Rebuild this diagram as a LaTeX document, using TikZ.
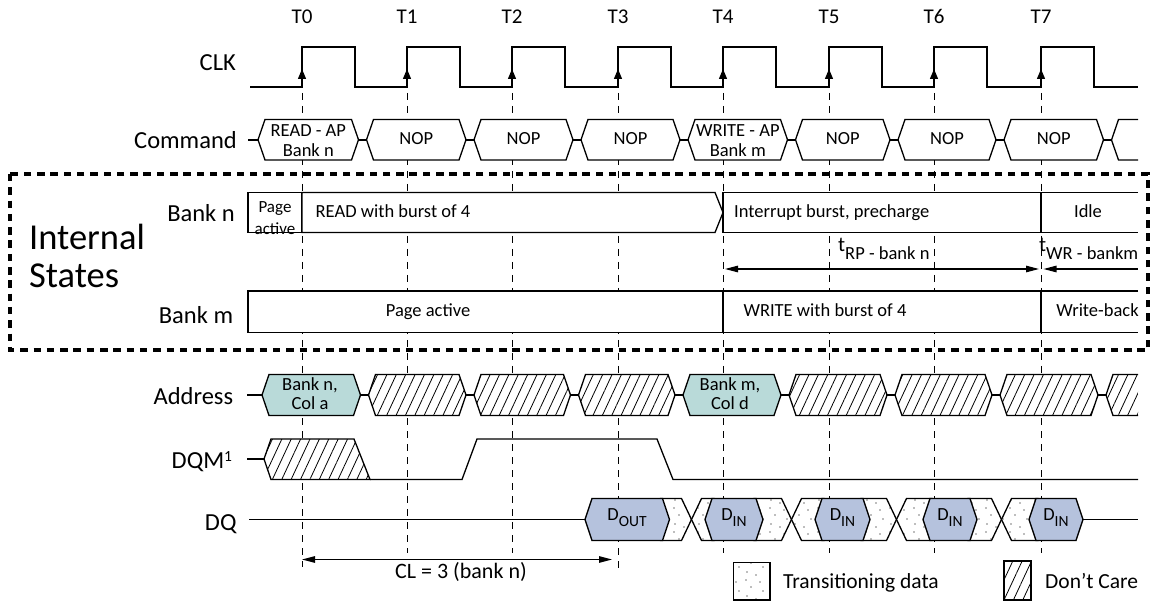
\documentclass[tikz,border=0pt]{standalone}
\usepackage{fontspec}
\setmainfont{Carlito}
\usetikzlibrary{arrows.meta, patterns, patterns.meta}

\definecolor{addrfill}{RGB}{185,218,217}
\definecolor{datafill}{RGB}{181,194,221}
\definecolor{dotgray}{RGB}{125,125,125}

% scattered dots for transitioning data
\pgfdeclarepatternformonly{transdots}{\pgfqpoint{-1pt}{-1pt}}{\pgfqpoint{25pt}{25pt}}{\pgfqpoint{24pt}{24pt}}{%
  \pgfpathcircle{\pgfqpoint{3pt}{5pt}}{0.9pt}%
  \pgfpathcircle{\pgfqpoint{12pt}{2pt}}{0.9pt}%
  \pgfpathcircle{\pgfqpoint{19pt}{10pt}}{0.9pt}%
  \pgfpathcircle{\pgfqpoint{7pt}{14pt}}{0.9pt}%
  \pgfpathcircle{\pgfqpoint{16pt}{19pt}}{0.9pt}%
  \pgfpathcircle{\pgfqpoint{2pt}{21pt}}{0.9pt}%
  \pgfusepath{fill}}

% bus segment: left x, right x, top y, bottom y
\newcommand{\hexpath}[4]{(#1,{(#3+#4)/2}) -- ({#1+7},#3) -- ({#2-7},#3) -- (#2,{(#3+#4)/2}) -- ({#2-7},#4) -- ({#1+7},#4) -- cycle}

\tikzset{
  sig/.style={line width=1.3pt, line join=miter},
  tline/.style={line width=0.9pt, dash pattern=on 7pt off 6pt},
  cmdbox/.style={sig, fill=white},
  addrbox/.style={sig, fill=addrfill},
  databox/.style={sig, fill=datafill},
  statebox/.style={sig, fill=white},
  hatchbox/.style={sig, preaction={fill=white}, pattern={Lines[angle=65, distance=8.5pt, line width=0.8pt]}},
  dotbox/.style={sig, preaction={fill=white}, pattern=transdots, pattern color=dotgray},
  dimline/.style={line width=1.2pt},
  dimtip/.tip={Triangle[length=13pt, width=6.5pt]},
  edgetip/.tip={Triangle[length=10pt, width=8pt]},
  rowlabel/.style={font=\fontsize{24.5}{28}\selectfont, inner sep=0pt, anchor=base east},
  tlabel/.style={font=\fontsize{21}{24}\selectfont, inner sep=0pt, anchor=base},
  boxtext/.style={font=\fontsize{18.5}{20}\selectfont, inner sep=0pt, align=center},
  legtext/.style={font=\fontsize{21.5}{24}\selectfont, inner sep=0pt, anchor=base west}
}

\begin{document}
\begin{tikzpicture}[x=1pt, y=-1pt]
    \useasboundingbox (0,0) rectangle (1151,601);

    % clock edges
    \draw[tline] (302,93) -- (302,567);
    \draw[tline] (407,93) -- (407,553);
    \draw[tline] (512,93) -- (512,553);
    \draw[tline] (618,93) -- (618,570);
    \draw[tline] (723,93) -- (723,553);
    \draw[tline] (829,93) -- (829,553);
    \draw[tline] (934,93) -- (934,553);
    \draw[tline] (1041,93) -- (1041,553);

    \node[tlabel] (T0) at (302,24) {T0};
    \node[tlabel] (T1) at (407,24) {T1};
    \node[tlabel] (T2) at (512,24) {T2};
    \node[tlabel] (T3) at (618,24) {T3};
    \node[tlabel] (T4) at (723,24) {T4};
    \node[tlabel] (T5) at (829,24) {T5};
    \node[tlabel] (T6) at (934,24) {T6};
    \node[tlabel] (T7) at (1041,24) {T7};

    % CLK
    \draw[sig] (250,87) -- (302,87) -- (302,47) -- (355,47) -- (355,87) -- (407,87) -- (407,47) -- (460,47) -- (460,87)
        -- (512,87) -- (512,47) -- (565,47) -- (565,87) -- (618,87) -- (618,47) -- (671,47) -- (671,87)
        -- (723,87) -- (723,47) -- (776,47) -- (776,87) -- (829,87) -- (829,47) -- (882,47) -- (882,87)
        -- (934,87) -- (934,47) -- (987,47) -- (987,87) -- (1041,87) -- (1041,47) -- (1094,47) -- (1094,87) -- (1138,87);
    \draw[sig, -edgetip] (302,87) -- (302,69);
    \draw[sig, -edgetip] (407,87) -- (407,69);
    \draw[sig, -edgetip] (512,87) -- (512,69);
    \draw[sig, -edgetip] (618,87) -- (618,69);
    \draw[sig, -edgetip] (723,87) -- (723,69);
    \draw[sig, -edgetip] (829,87) -- (829,69);
    \draw[sig, -edgetip] (934,87) -- (934,69);
    \draw[sig, -edgetip] (1041,87) -- (1041,69);

    % Command
    \draw[sig] (248,140) -- (258,140);
    \draw[cmdbox] \hexpath{258}{358.5}{119.5}{160};
    \draw[sig] (358.5,140) -- (366.5,140);
    \draw[cmdbox] \hexpath{366.5}{466}{119.5}{160};
    \draw[sig] (466,140) -- (474,140);
    \draw[cmdbox] \hexpath{474}{573}{119.5}{160};
    \draw[sig] (573,140) -- (581,140);
    \draw[cmdbox] \hexpath{581}{680}{119.5}{160};
    \draw[sig] (680,140) -- (688,140);
    \draw[cmdbox] \hexpath{688}{787.5}{119.5}{160};
    \draw[sig] (787.5,140) -- (795.5,140);
    \draw[cmdbox] \hexpath{795.5}{890}{119.5}{160};
    \draw[sig] (890,140) -- (898,140);
    \draw[cmdbox] \hexpath{898}{996}{119.5}{160};
    \draw[sig] (996,140) -- (1004,140);
    \draw[cmdbox] \hexpath{1004}{1103.5}{119.5}{160};
    \draw[sig] (1103.5,140) -- (1111.5,140);
    \draw[cmdbox] (1138,119.5) -- (1118.5,119.5) -- (1111.5,140) -- (1118.5,160) -- (1138,160);

    \node[boxtext] (cmdread) at (308.3,140.8) {READ - AP\\Bank n};
    \node[boxtext, anchor=base] (nop1) at (416.3,145) {NOP};
    \node[boxtext, anchor=base] (nop2) at (523.5,145) {NOP};
    \node[boxtext, anchor=base] (nop3) at (630.5,145) {NOP};
    \node[boxtext] (cmdwrite) at (737.8,140.8) {WRITE - AP\\Bank m};
    \node[boxtext, anchor=base] (nop5) at (842.8,145) {NOP};
    \node[boxtext, anchor=base] (nop6) at (947,145) {NOP};
    \node[boxtext, anchor=base] (nop7) at (1053.8,145) {NOP};

    % Internal states
    \draw[line width=4.3pt, dash pattern=on 7.5pt off 5.8pt] (10,174) rectangle (1148,350);
    \node[font=\fontsize{36.5}{40}\selectfont, inner sep=0pt, anchor=base west] (intl) at (29,249.3) {Internal};
    \node[font=\fontsize{36.5}{40}\selectfont, inner sep=0pt, anchor=base west] (stat) at (29,287.7) {States};

    \draw[statebox] (248,192.5) rectangle (302,232.5);
    \draw[statebox] (302,192.5) -- (715,192.5) -- (723,212.5) -- (715,232.5) -- (302,232.5) -- cycle;
    \draw[statebox] (1138,192.5) -- (723,192.5) -- (723,232.5) -- (1138,232.5);
    \draw[sig] (1041,192.5) -- (1041,232.5);

    \draw[statebox] (1138,291) -- (248,291) -- (248,332.5) -- (1138,332.5);
    \draw[sig] (723,291) -- (723,332.5);
    \draw[sig] (1041,291) -- (1041,332.5);

    \node[font=\fontsize{17}{22}\selectfont, inner sep=0pt, align=center] (npage) at (275,217.9) {Page\\active};
    \node[boxtext, anchor=base west] (nread) at (315.5,217.3) {READ with burst of 4};
    \node[boxtext, anchor=base west] (nintr) at (734,217.3) {Interrupt burst, precharge};
    \node[boxtext, anchor=base] (nidle) at (1088,217.3) {Idle};
    \node[boxtext, anchor=base] (mpage) at (428,316.7) {Page active};
    \node[boxtext, anchor=base] (mwrite) at (825,316.7) {WRITE with burst of 4};
    \node[boxtext, anchor=base] (mback) at (1097.5,316.7) {Write-back};

    \coordinate (rpL) at (725,269);
    \coordinate (rpR) at (1039,269);
    \coordinate (wrL) at (1043.5,269);
    \coordinate (wrR) at (1138,269);
    \draw[dimline, dimtip-dimtip] (rpL) -- (rpR);
    \draw[dimline, dimtip-] (wrL) -- (wrR);
    \node[boxtext, anchor=base west] (trp) at (838,252) {{\fontsize{21}{22}\selectfont t}\raisebox{-8pt}{RP - bank n}};
    \node[boxtext, anchor=base west] (twr) at (1039,252) {{\fontsize{21}{22}\selectfont t}\raisebox{-8pt}{WR - bankm}};

    % Address
    \draw[sig] (247,395) -- (262,395);
    \draw[addrbox] \hexpath{262}{360.5}{374.5}{415.5};
    \draw[sig] (360.5,395) -- (368.5,395);
    \draw[hatchbox] \hexpath{368.5}{466}{374.5}{415.5};
    \draw[sig] (466,395) -- (474,395);
    \draw[hatchbox] \hexpath{474}{570.5}{374.5}{415.5};
    \draw[sig] (570.5,395) -- (578.5,395);
    \draw[hatchbox] \hexpath{578.5}{675}{374.5}{415.5};
    \draw[sig] (675,395) -- (683,395);
    \draw[addrbox] \hexpath{683}{781}{374.5}{415.5};
    \draw[sig] (781,395) -- (789,395);
    \draw[hatchbox] \hexpath{789}{887}{374.5}{415.5};
    \draw[sig] (887,395) -- (895,395);
    \draw[hatchbox] \hexpath{895}{992}{374.5}{415.5};
    \draw[sig] (992,395) -- (1000,395);
    \draw[hatchbox] \hexpath{1000}{1098}{374.5}{415.5};
    \draw[sig] (1098,395) -- (1106,395);
    \draw[hatchbox] (1138,374.5) -- (1113,374.5) -- (1106,395) -- (1113,415.5) -- (1138,415.5);

    \node[boxtext, font=\fontsize{18.5}{19}\selectfont] (acola) at (310,394.1) {Bank n,\\Col a};
    \node[boxtext, font=\fontsize{18.5}{19}\selectfont] (acold) at (730,394.1) {Bank m,\\Col d};

    % DQM
    \draw[sig] (247,459) -- (264,459);
    \draw[hatchbox] (264,459) -- (271,439) -- (354,439) -- (370,479.5) -- (271,479.5) -- cycle;
    \draw[sig] (370,479.5) -- (462,479.5) -- (477,439) -- (657,439) -- (673,479.5) -- (1138,479.5);

    % DQ
    \draw[sig] (249,519.5) -- (585,519.5);
    \draw[dotbox] (660.5,498.5) -- (681.5,498.5) -- (691.5,519.5) -- (681.5,540.5) -- (660.5,540.5) -- cycle;
    \draw[dotbox] (691.5,519.5) -- (701.5,498.5) -- (714,498.5) -- (714,540.5) -- (701.5,540.5) -- cycle;
    \draw[dotbox] (754,498.5) -- (781.5,498.5) -- (791.5,519.5) -- (781.5,540.5) -- (754,540.5) -- cycle;
    \draw[dotbox] (791.5,519.5) -- (801.5,498.5) -- (824,498.5) -- (824,540.5) -- (801.5,540.5) -- cycle;
    \draw[dotbox] (861,498.5) -- (886.5,498.5) -- (896.5,519.5) -- (886.5,540.5) -- (861,540.5) -- cycle;
    \draw[dotbox] (896.5,519.5) -- (906.5,498.5) -- (932,498.5) -- (932,540.5) -- (906.5,540.5) -- cycle;
    \draw[dotbox] (968,498.5) -- (991.5,498.5) -- (1001.5,519.5) -- (991.5,540.5) -- (968,540.5) -- cycle;
    \draw[dotbox] (1001.5,519.5) -- (1011.5,498.5) -- (1038,498.5) -- (1038,540.5) -- (1011.5,540.5) -- cycle;
    \draw[databox] \hexpath{585}{669.5}{498.5}{540.5};
    \draw[databox] \hexpath{705}{763}{498.5}{540.5};
    \draw[databox] \hexpath{815}{870}{498.5}{540.5};
    \draw[databox] \hexpath{923}{977}{498.5}{540.5};
    \draw[databox] \hexpath{1029}{1083}{498.5}{540.5};
    \draw[sig] (1083,519.5) -- (1138,519.5);

    \node[boxtext, anchor=base] (dout) at (627,520.7) {D\raisebox{-5.5pt}{\fontsize{15.5}{16}\selectfont OUT}};
    \node[boxtext, anchor=base] (din4) at (734,520.7) {D\raisebox{-5.5pt}{\fontsize{15.5}{16}\selectfont IN}};
    \node[boxtext, anchor=base] (din5) at (842.5,520.7) {D\raisebox{-5.5pt}{\fontsize{15.5}{16}\selectfont IN}};
    \node[boxtext, anchor=base] (din6) at (950,520.7) {D\raisebox{-5.5pt}{\fontsize{15.5}{16}\selectfont IN}};
    \node[boxtext, anchor=base] (din7) at (1056,520.7) {D\raisebox{-5.5pt}{\fontsize{15.5}{16}\selectfont IN}};

    % CAS latency
    \coordinate (clL) at (302,559.5);
    \coordinate (clR) at (612,559.5);
    \draw[dimline, dimtip-dimtip] (clL) -- (clR);
    \node[font=\fontsize{22}{24}\selectfont, inner sep=0pt, anchor=base] (cl) at (461,578.3) {CL = 3 (bank n)};

    % row labels
    \node[rowlabel] (clk) at (236,70.5) {CLK};
    \node[rowlabel] (cmd) at (237,148.3) {Command};
    \node[rowlabel] (bankn) at (235,221.7) {Bank n};
    \node[rowlabel] (bankm) at (233.3,323.3) {Bank m};
    \node[rowlabel] (addr) at (233.3,404) {Address};
    \node[rowlabel] (dqm) at (232.3,468.3) {DQM\raisebox{7pt}{\fontsize{15.5}{16}\selectfont 1}};
    \node[rowlabel] (dq) at (236.7,530) {DQ};

    % legend
    \draw[dotbox] (733.5,562.5) rectangle (770,600);
    \node[legtext] (legdot) at (783,588.3) {Transitioning data};
    \draw[hatchbox] (1004,561) rectangle (1031,600);
    \node[legtext] (leghatch) at (1045,588.3) {Don't Care};
\end{tikzpicture}
\end{document}
